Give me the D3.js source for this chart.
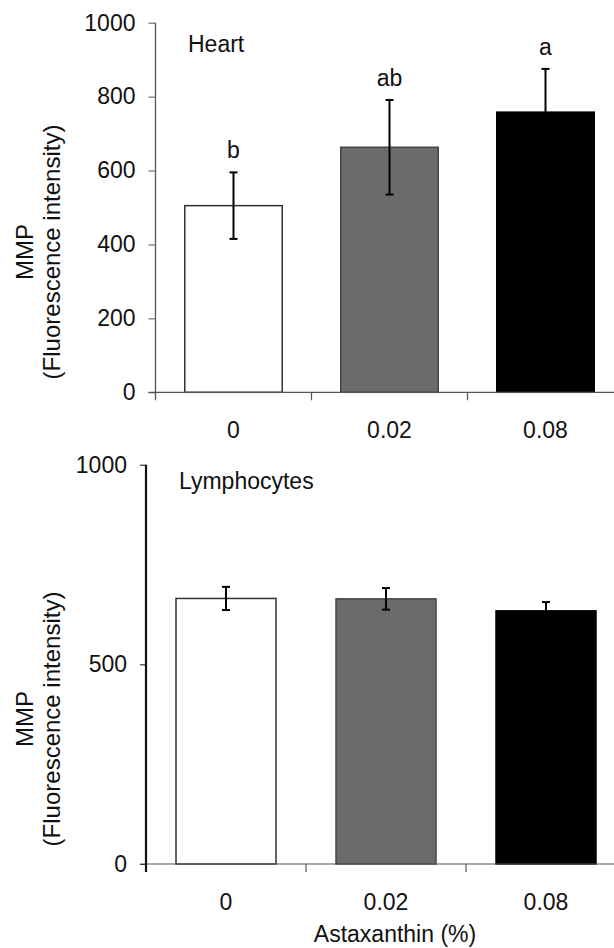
<!DOCTYPE html>
<meta charset="utf-8" />
<style>
  body { margin: 0; background: #fff; }
  svg text { font-family: "Liberation Sans", Arial, sans-serif; font-size: 23px; fill: #111; }
</style>
<body>
  <script src="https://d3js.org/d3.v7.min.js"></script>
  <script>
    // data
    const categories = ["0", "0.02", "0.08"];
    const heartMean = [505, 663, 758];
    const heartSE = [90, 128, 117];
    const heartLetters = ["b", "ab", "a"];
    const lymphMean = [665, 664, 634];
    const lymphSE = [29, 27, 22];
    const heartTicks = [0, 200, 400, 600, 800, 1000];
    const lymphTicks = [0, 500, 1000];
    const fills = ["#ffffff", "#6b6b6b", "#000000"];
    const strokes = ["#333333", "#444444", "#000000"];

    const width = 614, height = 948;

    const svg = d3.select("body")
      .append("svg")
      .attr("width", width)
      .attr("height", height);

    function panel(opt) {
      const g = svg.append("g");

      const x = d3.scaleBand()
        .domain(categories)
        .range(opt.xRange)
        .paddingInner(0.375)
        .paddingOuter(0.1875);

      const y = d3.scaleLinear()
        .domain([0, 1000])
        .range(opt.yRange);

      // y axis ticks + labels
      const yAxis = g.append("g")
        .attr("transform", "translate(" + opt.xRange[0] + ",0)")
        .call(d3.axisLeft(y)
          .tickValues(opt.ticks)
          .tickFormat(d3.format("d"))
          .tickSize(opt.tickSize)
          .tickPadding(13)
          .tickSizeOuter(0));
      yAxis.select(".domain").remove();
      yAxis.selectAll("line").attr("stroke", opt.axisColor);
      yAxis.selectAll("text")
        .style("font-size", "23px")
        .style("font-family", '"Liberation Sans", Arial, sans-serif')
        .attr("fill", "#111");

      // bars
      g.selectAll("rect.bar")
        .data(opt.mean)
        .join("rect")
        .attr("class", "bar")
        .attr("x", (d, i) => x(categories[i]))
        .attr("width", x.bandwidth())
        .attr("y", d => y(d))
        .attr("height", d => y(0) - y(d))
        .attr("fill", (d, i) => fills[i])
        .attr("stroke", (d, i) => strokes[i])
        .attr("stroke-width", 1.5);

      // error bars
      const cx = i => x(categories[i]) + x.bandwidth() / 2;
      const eb = g.selectAll("g.err")
        .data(opt.mean)
        .join("g")
        .attr("class", "err")
        .attr("stroke", "#000")
        .attr("stroke-width", 2);
      eb.append("line")
        .attr("x1", (d, i) => cx(i)).attr("x2", (d, i) => cx(i))
        .attr("y1", (d, i) => y(d + opt.se[i]))
        .attr("y2", (d, i) => y(d - opt.se[i]));
      eb.append("line")
        .attr("x1", (d, i) => cx(i) - 4).attr("x2", (d, i) => cx(i) + 4)
        .attr("y1", (d, i) => y(d + opt.se[i]))
        .attr("y2", (d, i) => y(d + opt.se[i]));
      eb.append("line")
        .attr("x1", (d, i) => cx(i) - 4).attr("x2", (d, i) => cx(i) + 4)
        .attr("y1", (d, i) => y(d - opt.se[i]))
        .attr("y2", (d, i) => y(d - opt.se[i]));

      // significance letters
      if (opt.letters) {
        g.selectAll("text.sig")
          .data(opt.letters)
          .join("text")
          .attr("class", "sig")
          .attr("text-anchor", "middle")
          .attr("x", (d, i) => cx(i))
          .attr("y", (d, i) => y(opt.mean[i] + opt.se[i]) - 14)
          .text(d => d);
      }

      // x axis line and band boundary ticks
      g.append("line")
        .attr("x1", opt.xRange[0] - opt.tickSize).attr("x2", width)
        .attr("y1", y(0)).attr("y2", y(0))
        .attr("stroke", "#555").attr("stroke-width", 1.2);
      g.selectAll("line.xt")
        .data(categories.slice(1))
        .join("line")
        .attr("class", "xt")
        .attr("x1", d => x(d) - x.step() * 0.1875)
        .attr("x2", d => x(d) - x.step() * 0.1875)
        .attr("y1", y(0)).attr("y2", y(0) + 8)
        .attr("stroke", "#555").attr("stroke-width", 1.2);

      // y axis line (runs a little below the x axis)
      g.append("line")
        .attr("x1", opt.xRange[0]).attr("x2", opt.xRange[0])
        .attr("y1", y(1000)).attr("y2", y(0) + 8)
        .attr("stroke", opt.axisColor).attr("stroke-width", opt.axisWidth);

      // category labels
      g.selectAll("text.cat")
        .data(categories)
        .join("text")
        .attr("class", "cat")
        .attr("text-anchor", "middle")
        .attr("x", d => x(d) + x.bandwidth() / 2)
        .attr("y", y(0) + 46)
        .text(d => d);

      // panel title
      g.append("text")
        .attr("x", opt.titleX).attr("y", opt.titleY)
        .text(opt.title);

      // y label
      const yl = g.append("text")
        .attr("text-anchor", "middle")
        .style("font-size", "24px")
        .attr("transform", "translate(33," + opt.labelY + ") rotate(-90)");
      yl.append("tspan").attr("x", 0).attr("y", 0).text("MMP");
      yl.append("tspan").attr("x", 0).attr("y", 27).text("(Fluorescence intensity)");
    }

    panel({
      xRange: [155.5, 623.5], yRange: [392.3, 22.7],
      mean: heartMean, se: heartSE, letters: heartLetters,
      ticks: heartTicks, tickSize: 7, axisColor: "#555", axisWidth: 1.3,
      title: "Heart", titleX: 188, titleY: 52, labelY: 252
    });

    panel({
      xRange: [146, 626], yRange: [864, 464.7],
      mean: lymphMean, se: lymphSE, letters: null,
      ticks: lymphTicks, tickSize: 6, axisColor: "#111", axisWidth: 2.2,
      title: "Lymphocytes", titleX: 179, titleY: 489, labelY: 719
    });

    svg.append("text")
      .attr("text-anchor", "middle")
      .attr("x", 395).attr("y", 942)
      .text("Astaxanthin (%)");
  </script>
</body>
